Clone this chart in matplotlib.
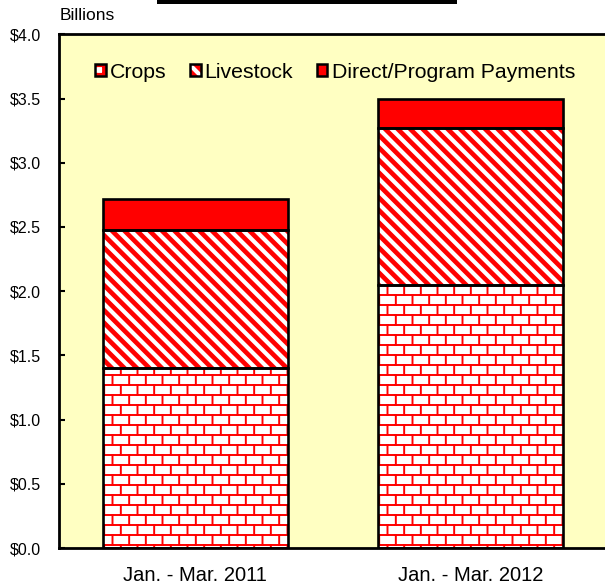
import numpy as np
import matplotlib
matplotlib.use("Agg")
import matplotlib.pyplot as plt
import matplotlib.hatch as mhatch
from matplotlib.path import Path
from matplotlib.patches import Patch, Rectangle
from matplotlib.legend_handler import HandlerTuple

# ---------------- data ----------------
categories = ["Jan. - Mar. 2011", "Jan. - Mar. 2012"]
crops = [1.40, 2.05]
livestock = [1.08, 1.22]
direct_payments = [0.24, 0.23]
series_names = ["Crops", "Livestock", "Direct/Program Payments"]
ytick_values = [0.0, 0.5, 1.0, 1.5, 2.0, 2.5, 3.0, 3.5, 4.0]
ytick_labels = ["$0.0", "$0.5", "$1.0", "$1.5", "$2.0", "$2.5", "$3.0", "$3.5", "$4.0"]


# ---------------- custom hatch textures ----------------
class BrickHatch(mhatch.HatchPatternBase):
    """Brick texture, triggered by '*'."""
    def __init__(self, hatch, density):
        self.rows = 10
        self.cols = 6
        if hatch.count('*'):
            self.num_vertices = self.rows * 2 + (self.rows + 2) * self.cols * 2
        else:
            self.num_vertices = 0

    def set_vertices_and_codes(self, vertices, codes):
        R, C = self.rows, self.cols
        v = []
        for i in range(R):
            y = (i + 0.5) / R
            v.append((-0.1, y))
            v.append((1.1, y))
        for i in range(-1, R + 1):
            y0 = (i + 0.5) / R
            y1 = (i + 1.5) / R
            off = 0.5 / C if i % 2 else 0.0
            for j in range(C):
                xx = (j + 0.25) / C + off
                v.append((xx, y0))
                v.append((xx, y1))
        vertices[:] = np.array(v)
        codes[0::2] = Path.MOVETO
        codes[1::2] = Path.LINETO


class StripeHatch(mhatch.HatchPatternBase):
    """Diagonal stripes (top-left to bottom-right), triggered by 'o'."""
    def __init__(self, hatch, density):
        self.n = 8
        if hatch.count('o'):
            self.num_vertices = (2 * self.n + 3) * 2
        else:
            self.num_vertices = 0

    def set_vertices_and_codes(self, vertices, codes):
        n = self.n
        v = []
        for k in range(-1, 2 * n + 2):
            c = k / n
            v.append((-0.5, c + 0.5))
            v.append((1.5, c - 1.5))
        vertices[:] = np.array(v)
        codes[0::2] = Path.MOVETO
        codes[1::2] = Path.LINETO


mhatch._hatch_types = [t for t in mhatch._hatch_types
                       if t not in (mhatch.Stars, mhatch.SmallCircles)] + [BrickHatch, StripeHatch]

# ---------------- figure ----------------
plt.rcParams['font.family'] = ['Liberation Sans', 'DejaVu Sans']
W, H = 605, 585
fig = plt.figure(figsize=(W / 100, H / 100), dpi=100)
fig.patch.set_facecolor('white')

ax_left, ax_right, ax_top, ax_bottom = 59, 605, 34.4, 548
ax = fig.add_axes([ax_left / W, 1 - ax_bottom / H, (ax_right - ax_left) / W, (ax_bottom - ax_top) / H])
ax.set_facecolor('#FFFFC2')

x = np.arange(len(categories))
width = 0.673
RED = '#FF0000'

bottoms_l = np.array(crops)
bottoms_d = np.array(crops) + np.array(livestock)

plt.rcParams['hatch.linewidth'] = 1.4
b1 = ax.bar(x, crops, width, color='white', edgecolor=RED, hatch='*', linewidth=0, zorder=2)
for p in b1:
    if hasattr(p, 'set_hatch_linewidth'):
        p.set_hatch_linewidth(1.4)

plt.rcParams['hatch.linewidth'] = 3.0
b2 = ax.bar(x, livestock, width, bottom=bottoms_l, color=RED, edgecolor='white', hatch='o', linewidth=0, zorder=2)
for p in b2:
    if hasattr(p, 'set_hatch_linewidth'):
        p.set_hatch_linewidth(3.0)

b3 = ax.bar(x, direct_payments, width, bottom=bottoms_d, color=RED, linewidth=0, zorder=2)

# black outlines
for vals, bot in [(crops, None), (livestock, bottoms_l), (direct_payments, bottoms_d)]:
    ax.bar(x, vals, width, bottom=bot, fill=False, edgecolor='black', linewidth=1.9, zorder=3)

ax.set_xlim(-0.496, 1.489)
ax.set_ylim(0, 4.0)
ax.set_yticks(ytick_values)
ax.set_yticklabels(ytick_labels)
ax.set_xticks(x)
ax.set_xticklabels(categories)
ax.tick_params(axis='y', direction='in', length=4, width=1.5, pad=13, labelsize=11.5, colors='black')
ax.tick_params(axis='x', length=0, pad=13, labelsize=14.5)

for s in ['left', 'top', 'bottom']:
    ax.spines[s].set_linewidth(2.0)
    ax.spines[s].set_color('black')
ax.spines['right'].set_visible(False)

# legend
h1 = (Patch(facecolor='white', edgecolor=RED, hatch='*', linewidth=0),
      Patch(fill=False, edgecolor='black', linewidth=1.8))
h2 = (Patch(facecolor=RED, edgecolor='white', hatch='o', linewidth=0),
      Patch(fill=False, edgecolor='black', linewidth=1.8))
h3 = (Patch(facecolor=RED, linewidth=0),
      Patch(fill=False, edgecolor='black', linewidth=1.8))
leg = fig.legend([h1, h2, h3], series_names,
                 handler_map={tuple: HandlerTuple(ndivide=1, pad=0)},
                 loc='center left', bbox_to_anchor=(95 / W, 1 - 72 / H),
                 bbox_transform=fig.transFigure, ncol=3, frameon=False,
                 fontsize=15.3, handlelength=0.5, handleheight=0.5,
                 handletextpad=0.2, columnspacing=1.1, borderpad=0, borderaxespad=0)

fig.text(60 / W, 1 - 16 / H, "Billions", fontsize=12.5, ha='left', va='center')

# black bar at top (clipped title box)
fig.patches.append(Rectangle((157 / W, 1 - 3.5 / H), 300 / W, 3.5 / H,
                             transform=fig.transFigure, facecolor='black',
                             edgecolor='none', zorder=5))

fig.savefig('out.png', dpi=100)
